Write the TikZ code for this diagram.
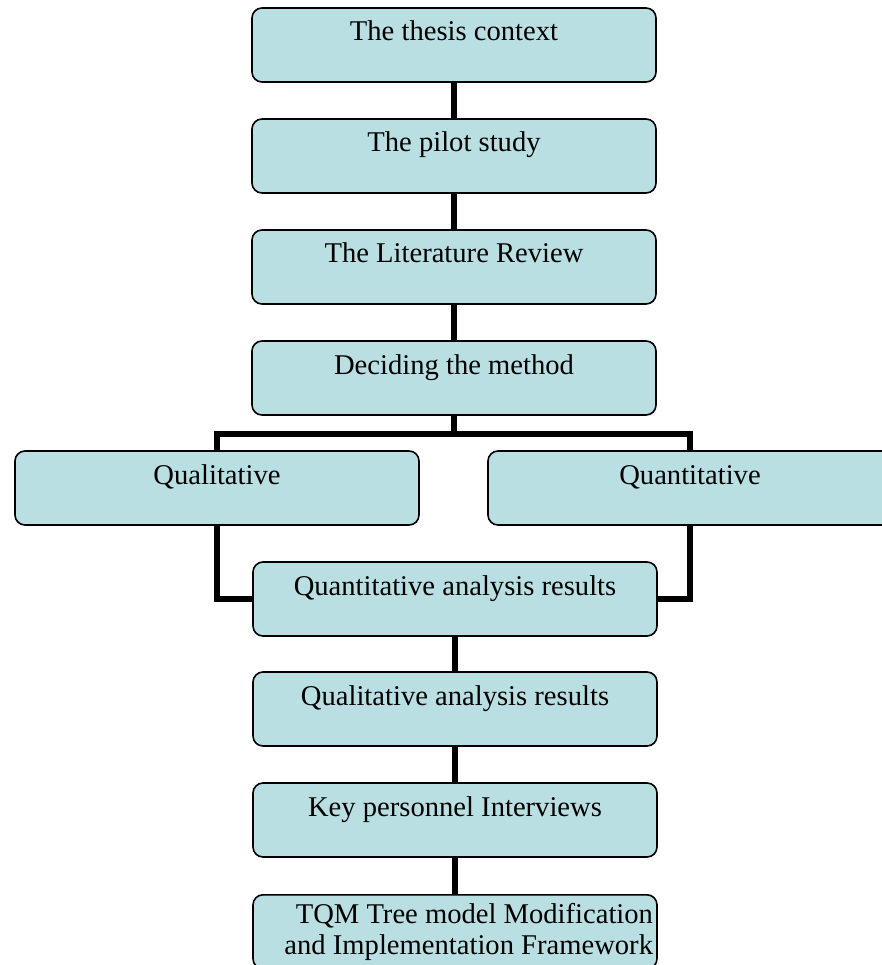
\documentclass[tikz,border=0pt]{standalone}
\usepackage{fontspec}
\setmainfont{Liberation Serif}
\definecolor{boxfill}{RGB}{185,223,227}
\begin{document}
\begin{tikzpicture}[x=1pt,y=-1pt,
  stage/.style={draw=black, line width=1.6pt, rounded corners=10pt, fill=boxfill,
    minimum width=404pt, inner sep=0pt, text height=33pt, text depth=41pt,
    font=\fontsize{28.6pt}{31pt}\selectfont},
  wide/.style={draw=black, line width=1.6pt, rounded corners=10pt, fill=boxfill,
    minimum width=404pt, minimum height=74pt, text width=396pt, inner xsep=4pt,
    inner ysep=0pt, align=flush right, font=\fontsize{28.6pt}{31pt}\selectfont},
  link/.style={draw=black, line width=5.5pt, line join=miter}]
\useasboundingbox (0,0) rectangle (881,965);

% main column of stages
\node[stage] (ctx)  at (454,45)  {The thesis context};
\node[stage] (pil)  at (454,156) {The pilot study};
\node[stage] (lit)  at (454,267) {The Literature Review};
\node[stage] (meth) at (454,378) {Deciding the method};
\node[stage] (ql)   at (217,488) {Qualitative};
\node[stage] (qn)   at (690,488) {Quantitative};
\node[stage] (qnr)  at (455,599) {Quantitative analysis results};
\node[stage] (qlr)  at (455,709) {Qualitative analysis results};
\node[stage] (kpi)  at (455,820) {Key personnel Interviews};
\node[wide, anchor=north] (tqm) at (455,894)
  {TQM Tree model Modification\\and Implementation Framework};

% connectors
\draw[link] (ctx.south) -- (pil.north);
\draw[link] (pil.south) -- (lit.north);
\draw[link] (lit.south) -- (meth.north);
\draw[link] (meth.south) -- ++(0,18) -| (ql.north);
\draw[link] (meth.south) -- ++(0,18) -| (qn.north);
\draw[link] (ql.south) |- (qnr.west);
\draw[link] (qn.south) |- (qnr.east);
\draw[link] (qnr.south) -- (qlr.north);
\draw[link] (qlr.south) -- (kpi.north);
\draw[link] (kpi.south) -- (tqm.north);
\end{tikzpicture}
\end{document}
